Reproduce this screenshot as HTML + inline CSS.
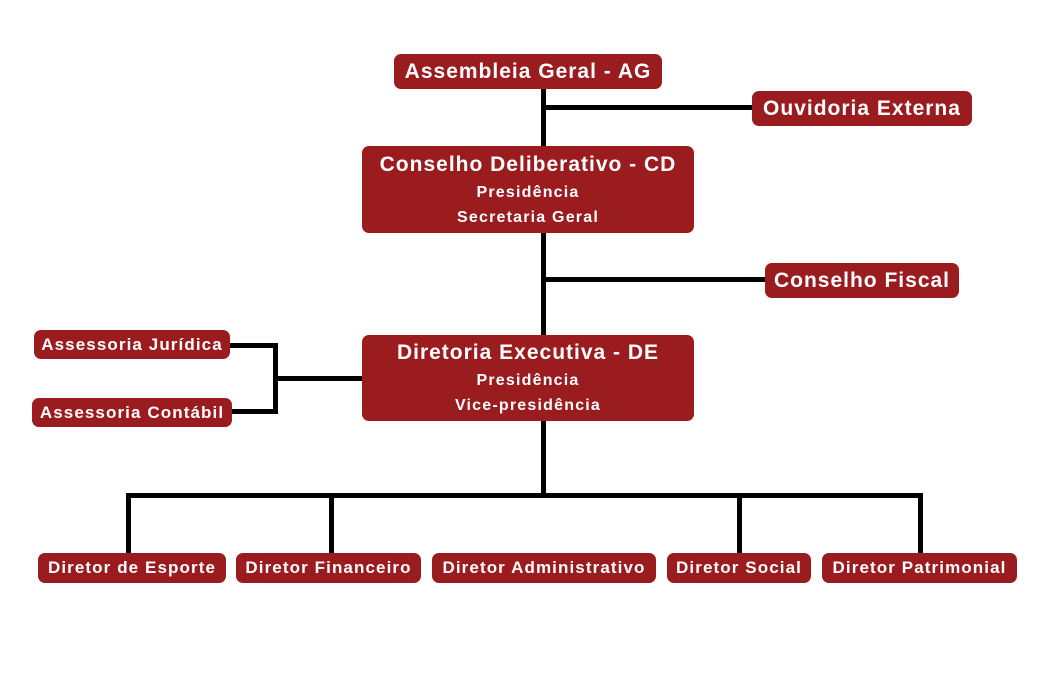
<!DOCTYPE html>
<html><head><meta charset="utf-8"><style>
body{margin:0;width:1056px;height:688px;background:#fff;position:relative;overflow:hidden;font-family:"Liberation Sans",sans-serif;}
.b{position:absolute;background:#9b1c1f;color:#fff;border-radius:7px;font-weight:bold;display:flex;flex-direction:column;align-items:center;justify-content:center;text-align:center;white-space:nowrap;}
.t{font-size:21px;letter-spacing:1px}
.d{font-size:17px;letter-spacing:1.1px}
.l{position:absolute;background:#000;}
.s{font-size:16px;line-height:25px;letter-spacing:1.2px}
</style></head><body>
<div class="l" style="left:541px;top:88px;width:5px;height:410px"></div>
<div class="l" style="left:541px;top:105px;width:212px;height:5px"></div>
<div class="l" style="left:541px;top:277px;width:226px;height:5px"></div>
<div class="l" style="left:228px;top:343px;width:50px;height:5px"></div>
<div class="l" style="left:230px;top:409px;width:48px;height:5px"></div>
<div class="l" style="left:273px;top:343px;width:5px;height:71px"></div>
<div class="l" style="left:273px;top:376px;width:90px;height:5px"></div>
<div class="l" style="left:126px;top:493px;width:797px;height:5px"></div>
<div class="l" style="left:126px;top:493px;width:5px;height:62px"></div>
<div class="l" style="left:329px;top:493px;width:5px;height:62px"></div>
<div class="l" style="left:737px;top:493px;width:5px;height:62px"></div>
<div class="l" style="left:918px;top:493px;width:5px;height:62px"></div>

<div class="b t" style="left:394px;top:54px;width:268px;height:35px">Assembleia Geral - AG</div>
<div class="b t" style="left:752px;top:91px;width:220px;height:35px">Ouvidoria Externa</div>
<div class="b" style="left:362px;top:146px;width:332px;height:87px"><div class="t" style="line-height:30px">Conselho Deliberativo - CD</div><div class="s">Presidência</div><div class="s">Secretaria Geral</div></div>
<div class="b t" style="left:765px;top:263px;width:194px;height:35px">Conselho Fiscal</div>
<div class="b" style="left:362px;top:335px;width:332px;height:86px"><div class="t" style="line-height:30px">Diretoria Executiva - DE</div><div class="s">Presidência</div><div class="s">Vice-presidência</div></div>
<div class="b d" style="left:34px;top:330px;width:196px;height:29px">Assessoria Jurídica</div>
<div class="b d" style="left:32px;top:398px;width:200px;height:29px">Assessoria Contábil</div>
<div class="b d" style="left:38px;top:553px;width:188px;height:30px">Diretor de Esporte</div>
<div class="b d" style="left:236px;top:553px;width:185px;height:30px">Diretor Financeiro</div>
<div class="b d" style="left:432px;top:553px;width:224px;height:30px">Diretor Administrativo</div>
<div class="b d" style="left:667px;top:553px;width:144px;height:30px">Diretor Social</div>
<div class="b d" style="left:822px;top:553px;width:195px;height:30px">Diretor Patrimonial</div>
</body></html>
